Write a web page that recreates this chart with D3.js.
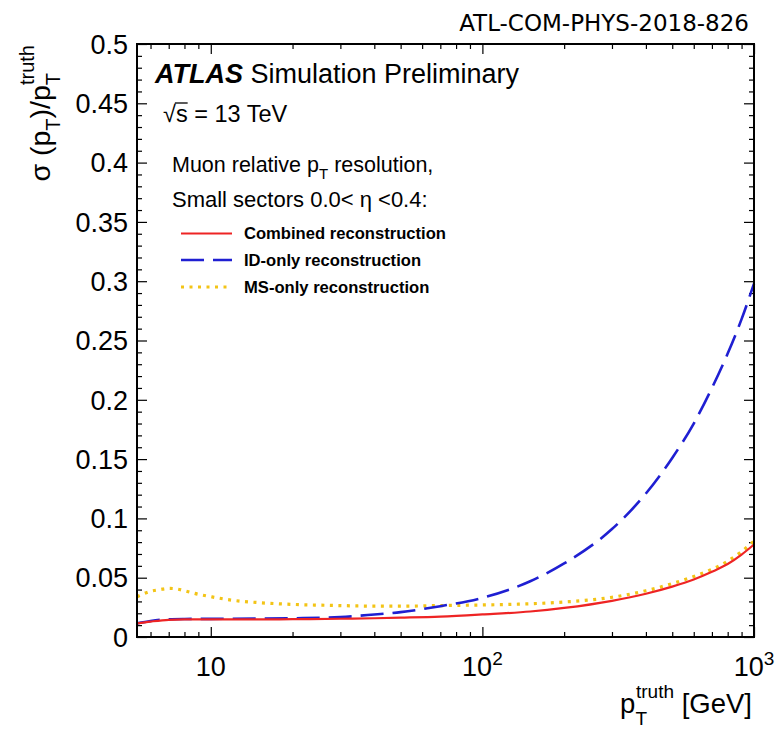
<!DOCTYPE html>
<html>
<head>
<meta charset="utf-8">
<script src="https://cdn.jsdelivr.net/npm/d3@7"></script>
<style>
  html, body { margin: 0; padding: 0; background: #ffffff; }
  svg { display: block; }
</style>
</head>
<body>
<svg id="chart" width="777" height="734"></svg>
<script>
// Muon relative pT resolution vs truth pT (small sectors, 0.0 < eta < 0.4)

const ptCombined = [5.35, 6, 7, 8, 10, 15, 20, 30, 40, 50, 70, 100, 150, 200, 300, 400, 500, 600, 700, 800, 900, 1000];
const resCombined = [0.0115, 0.013, 0.0145, 0.0148, 0.0148, 0.0148, 0.015, 0.0154, 0.0158, 0.0163, 0.0172, 0.019, 0.0215, 0.0245, 0.0305, 0.0365, 0.0425, 0.0485, 0.055, 0.0615, 0.0695, 0.078];

const ptID = [5.35, 6, 7, 8, 10, 15, 20, 30, 40, 50, 70, 100, 150, 200, 300, 400, 500, 600, 700, 800, 900, 1000];
const resID = [0.0115, 0.0135, 0.015, 0.0152, 0.0153, 0.0155, 0.0158, 0.0168, 0.019, 0.021, 0.026, 0.033, 0.047, 0.062, 0.091, 0.121, 0.151, 0.180, 0.210, 0.239, 0.268, 0.298];

const ptMS = [5.35, 6, 6.5, 7, 7.5, 8, 9, 10, 12, 15, 20, 30, 40, 50, 70, 100, 150, 200, 300, 400, 500, 600, 700, 800, 900, 1000];
const resMS = [0.034, 0.0385, 0.040, 0.041, 0.0405, 0.039, 0.036, 0.034, 0.031, 0.029, 0.0275, 0.0265, 0.026, 0.026, 0.0265, 0.027, 0.028, 0.0295, 0.0335, 0.039, 0.045, 0.051, 0.057, 0.064, 0.072, 0.081];

const yMajorTicks = [0, 0.05, 0.1, 0.15, 0.2, 0.25, 0.3, 0.35, 0.4, 0.45, 0.5];
const xMajorTicks = [10, 100, 1000];
const xTickLabels = [["10", ""], ["10", "2"], ["10", "3"]];
const legendLabels = ["Combined reconstruction", "ID-only reconstruction", "MS-only reconstruction"];

const FONT = "'Liberation Sans', Arial, Helvetica, sans-serif";

const svg = d3.select("#chart");
const plotL = 137, plotR = 754, plotT = 44, plotB = 637;

const x = d3.scaleLog().domain([5.35, 1000]).range([plotL, plotR]);
const y = d3.scaleLinear().domain([0, 0.5]).range([plotB, plotT]);

// minor ticks
const xMinorTicks = [];
[1, 10, 100].forEach(dec => {
  for (let k = 2; k <= 9; k++) {
    const v = k * dec;
    if (v >= 5.35 && v < 1000 && !xMajorTicks.includes(v)) xMinorTicks.push(v);
  }
});
const yMinorTicks = d3.range(0, 51).map(i => i / 100).filter(v => Math.round(v * 100) % 5 !== 0);

const MAJ = 10, MIN = 5;

function tickAxis(gen, transform, values, size) {
  const g = svg.append("g").attr("transform", transform)
    .call(gen.tickValues(values).tickSize(-size).tickFormat(""));
  g.select(".domain").remove();
  g.selectAll(".tick line").attr("stroke", "#000").attr("stroke-width", 1.2);
  return g;
}

// ticks on all four sides, pointing inward
tickAxis(d3.axisBottom(x), `translate(0,${plotB})`, xMajorTicks, MAJ);
tickAxis(d3.axisBottom(x), `translate(0,${plotB})`, xMinorTicks, MIN);
tickAxis(d3.axisTop(x), `translate(0,${plotT})`, xMajorTicks, MAJ);
tickAxis(d3.axisTop(x), `translate(0,${plotT})`, xMinorTicks, MIN);
tickAxis(d3.axisLeft(y), `translate(${plotL},0)`, yMajorTicks, MAJ);
tickAxis(d3.axisLeft(y), `translate(${plotL},0)`, yMinorTicks, MIN);
tickAxis(d3.axisRight(y), `translate(${plotR},0)`, yMajorTicks, MAJ);
tickAxis(d3.axisRight(y), `translate(${plotR},0)`, yMinorTicks, MIN);

// y tick labels
svg.append("g").selectAll("text").data(yMajorTicks).join("text")
  .attr("x", plotL - 9)
  .attr("y", d => y(d))
  .attr("dy", "0.36em")
  .attr("text-anchor", "end")
  .attr("font-family", FONT)
  .attr("font-size", 27)
  .attr("fill", "#000")
  .text(d => d === 0 ? "0" : String(+d.toFixed(2)));

// x tick labels with exponents
xMajorTicks.forEach((v, i) => {
  const t = svg.append("text")
    .attr("x", x(v))
    .attr("y", 676)
    .attr("text-anchor", "middle")
    .attr("font-family", FONT)
    .attr("font-size", 27)
    .attr("fill", "#000");
  t.append("tspan").text(xTickLabels[i][0]);
  if (xTickLabels[i][1]) {
    t.append("tspan").attr("dy", -11).attr("font-size", 19).text(xTickLabels[i][1]);
  }
});

// curves
const line = d3.line().x(d => x(d[0])).y(d => y(d[1])).curve(d3.curveMonotoneX);
const plot = svg.append("g");

const series = [
  { pts: d3.zip(ptMS, resMS), color: "#f3c416", width: 3.2, dash: "3,5.5" },
  { pts: d3.zip(ptID, resID), color: "#1f1fd2", width: 2.6, dash: "23,9" },
  { pts: d3.zip(ptCombined, resCombined), color: "#ee2424", width: 2.2, dash: null }
];
series.forEach(s => {
  plot.append("path")
    .datum(s.pts)
    .attr("d", line)
    .attr("fill", "none")
    .attr("stroke", s.color)
    .attr("stroke-width", s.width)
    .attr("stroke-dasharray", s.dash);
});

// frame
svg.append("rect")
  .attr("x", plotL).attr("y", plotT)
  .attr("width", plotR - plotL).attr("height", plotB - plotT)
  .attr("fill", "none").attr("stroke", "#000").attr("stroke-width", 2);

// header labels
const atlas = svg.append("text")
  .attr("x", 155).attr("y", 83)
  .attr("font-family", FONT).attr("font-size", 27).attr("fill", "#000");
atlas.append("tspan").attr("font-weight", "bold").attr("font-style", "italic").text("ATLAS");
atlas.append("tspan").text(" Simulation Preliminary");

// sqrt(s) label with a bar over the s
const energy = svg.append("text")
  .attr("x", 163).attr("y", 122)
  .attr("font-family", FONT).attr("font-size", 23.5).attr("fill", "#000");
const rootSign = energy.append("tspan").text("\u221A");
const sGlyph = energy.append("tspan").text("s");
energy.append("tspan").text(" = 13 TeV");
const rootW = rootSign.node().getComputedTextLength();
const sW = sGlyph.node().getComputedTextLength();
svg.append("line")
  .attr("x1", 163 + rootW - 1).attr("x2", 163 + rootW + sW)
  .attr("y1", 103).attr("y2", 103)
  .attr("stroke", "#000").attr("stroke-width", 1.3);

const info1 = svg.append("text")
  .attr("x", 172).attr("y", 172)
  .attr("font-family", FONT).attr("font-size", 21.5).attr("fill", "#000");
info1.append("tspan").text("Muon relative p");
info1.append("tspan").attr("dy", 7).attr("font-size", 15).text("T");
info1.append("tspan").attr("dy", -7).text(" resolution,");

svg.append("text")
  .attr("x", 172).attr("y", 207)
  .attr("font-family", FONT).attr("font-size", 22).attr("fill", "#000")
  .text("Small sectors 0.0< \u03B7 <0.4:");

// legend
const legendSeries = [series[2], series[1], series[0]];
const legendY = [233.5, 260, 287];
legendSeries.forEach((s, i) => {
  svg.append("line")
    .attr("x1", 181).attr("x2", 232)
    .attr("y1", legendY[i]).attr("y2", legendY[i])
    .attr("stroke", s.color).attr("stroke-width", s.width)
    .attr("stroke-dasharray", s.dash);
  svg.append("text")
    .attr("x", 244).attr("y", legendY[i] + 5.5)
    .attr("font-family", FONT).attr("font-size", 16.6).attr("font-weight", "bold")
    .attr("fill", "#000")
    .text(legendLabels[i]);
});

// document code, top right
svg.append("text")
  .attr("x", 749).attr("y", 31)
  .attr("text-anchor", "end")
  .attr("font-family", "'DejaVu Sans', sans-serif").attr("font-size", 23)
  .attr("fill", "#000")
  .text("ATL-COM-PHYS-2018-826");

// x axis title
const xt = svg.append("text")
  .attr("x", 752).attr("y", 713)
  .attr("text-anchor", "end")
  .attr("font-family", FONT).attr("font-size", 27.5).attr("fill", "#000");
xt.append("tspan").text("p");
xt.append("tspan").attr("dy", 12).attr("font-size", 19).text("T");
xt.append("tspan").attr("dx", -11).attr("dy", -27).attr("font-size", 19).text("truth");
xt.append("tspan").attr("dy", 15).text(" [GeV]");

// y axis title (rotated)
const yt = svg.append("text")
  .attr("transform", "translate(50,45) rotate(-90)")
  .attr("text-anchor", "end")
  .attr("font-family", FONT).attr("font-size", 28.5).attr("fill", "#000");
yt.append("tspan").text("\u03C3 (p");
yt.append("tspan").attr("dy", 10).attr("font-size", 20).text("T");
yt.append("tspan").attr("dy", -10).text(")/p");
yt.append("tspan").attr("dy", 10).attr("font-size", 20).text("T");
yt.append("tspan").attr("dx", -12).attr("dy", -26).attr("font-size", 20).text("truth");
</script>
</body>
</html>
